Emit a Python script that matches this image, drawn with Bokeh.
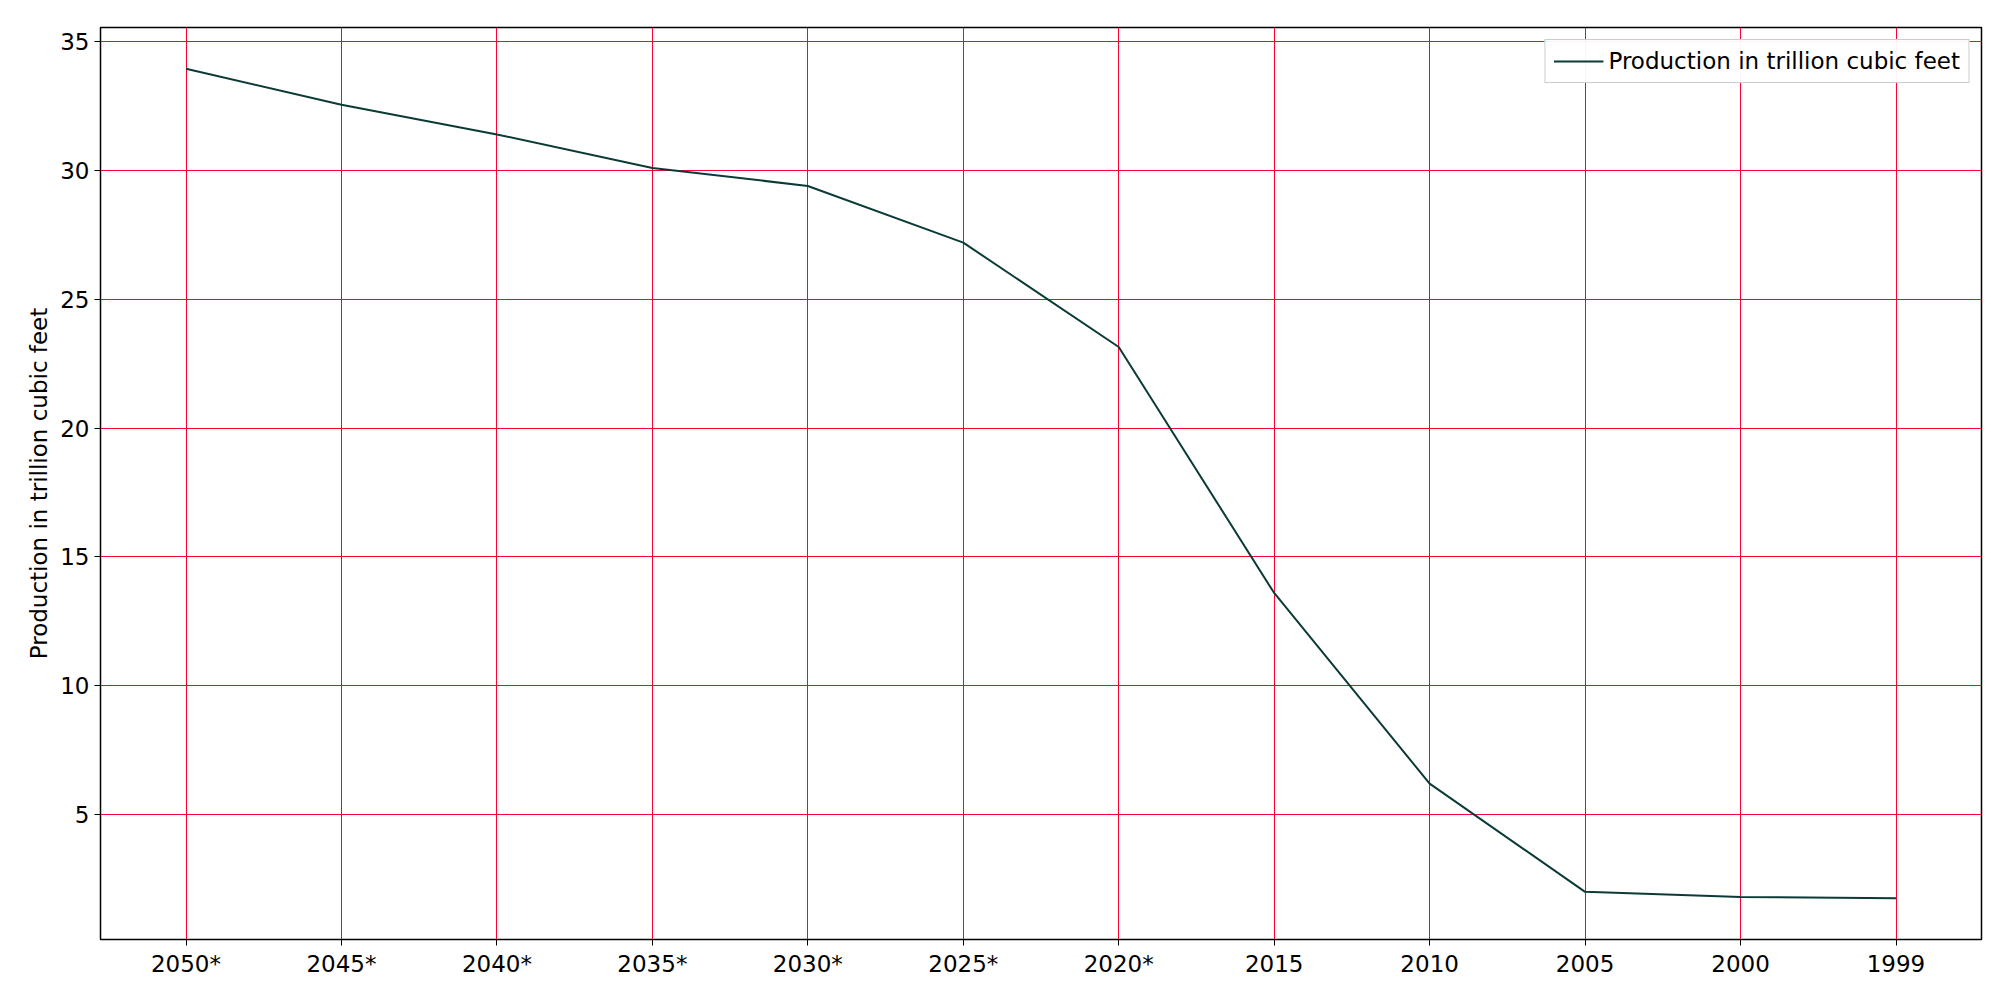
from bokeh.plotting import figure
from bokeh.models import FixedTicker, Range1d, Legend, LegendItem
from bokeh.embed import file_html
from bokeh.resources import INLINE

years = ["2050*", "2045*", "2040*", "2035*", "2030*", "2025*", "2020*", "2015", "2010", "2005", "2000", "1999"]
production = [33.95, 32.55, 31.4, 30.1, 29.4, 27.2, 23.15, 13.6, 6.2, 2.0, 1.8, 1.75]
y_ticks = [5, 10, 15, 20, 25, 30, 35]

F = "DejaVu Sans"
xs = list(range(len(years)))
p = figure(width=1984, height=984, output_backend="svg", toolbar_location=None,
           x_range=Range1d(-0.55, len(years) - 0.45), y_range=Range1d(0.15, 35.55),
           min_border_left=100, min_border_right=3, min_border_top=27, min_border_bottom=45)
r = p.line(xs, production, line_color="#0b3b36", line_width=2)
p.xaxis.ticker = FixedTicker(ticks=xs)
p.xaxis.major_label_overrides = {i: y for i, y in enumerate(years)}
p.yaxis.ticker = FixedTicker(ticks=y_ticks)
p.yaxis.axis_label = "Production in trillion cubic feet"
for ax in (p.xaxis[0], p.yaxis[0]):
    ax.major_label_text_font_size = "23px"
    ax.major_label_text_font = F
    ax.major_label_text_color = "black"
    ax.axis_label_text_font_size = "23px"
    ax.axis_label_text_font = F
    ax.axis_label_text_color = "black"
    ax.axis_label_text_font_style = "normal"
    ax.minor_tick_line_color = None
    ax.major_tick_out = 6
    ax.major_tick_in = 0
p.xgrid.grid_line_color = "#ff0033"
p.ygrid.grid_line_color = "#ff0033"
p.outline_line_color = "black"
p.outline_line_width = 1.5
legend = Legend(items=[LegendItem(label="Production in trillion cubic feet", renderers=[r])],
                location="top_right", label_text_font_size="23px", label_text_font=F,
                label_text_color="black", glyph_width=50,
                border_line_color="#cccccc", border_line_alpha=1, margin=12, padding=8)
p.add_layout(legend, "center")
open("out.html", "w").write(file_html(p, INLINE))
